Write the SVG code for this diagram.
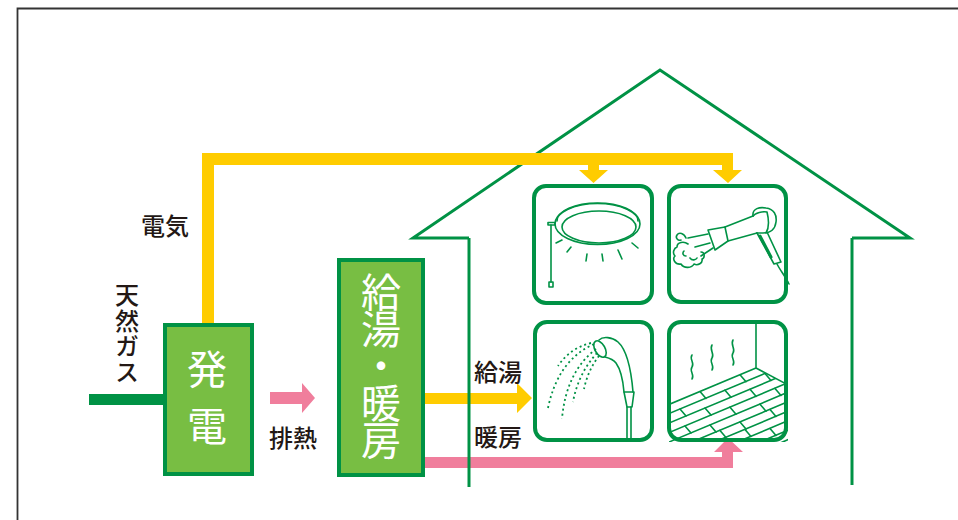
<svg xmlns="http://www.w3.org/2000/svg" width="958" height="520" viewBox="0 0 958 520">
  <style>
    .house { fill: none; stroke: #009245; stroke-width: 3; stroke-linejoin: miter; }
    .box { fill: #78be43; stroke: #009245; stroke-width: 4; }
    .room { fill: #ffffff; stroke: #009245; stroke-width: 4; }
    .ic { fill: none; stroke: #009245; stroke-width: 1.6; stroke-linecap: round; stroke-linejoin: round; }
    .spray { fill: none; stroke: #009245; stroke-width: 1.8; stroke-dasharray: 2 3; }
    .lbl { font-family: "Noto Sans CJK JP", "Noto Sans", sans-serif; font-size: 24px; font-weight: 500; fill: #231815; }
    .big { font-family: "Noto Sans CJK JP", "Noto Sans", sans-serif; font-size: 40px; fill: #ffffff; }
    .vert { writing-mode: vertical-rl; }
    .elec { fill: #ffcc00; }
    .heat { fill: #f07e9c; }
  </style>
  <defs>
    <clipPath id="floorClip">
      <polygon points="669,404 756,368 788,385 788,442 669,442"/>
    </clipPath>
    <clipPath id="room4Clip">
      <rect x="669" y="322" width="117" height="118" rx="11"/>
    </clipPath>
  </defs>

  <rect width="958" height="520" fill="#ffffff"/>
  <!-- outer frame -->
  <path d="M17.5,520 V8.5 H958" fill="none" stroke="#333333" stroke-width="1.8"/>

  <!-- house roof outline -->
  <g id="house-roof">
    <path class="house" d="M469,238 H413 L660,70 L910,238 H852"/>
  </g>

  <g id="connectors">
    <!-- natural gas feed -->
    <rect x="89" y="394" width="76" height="11" fill="#009245"/>
    <!-- electricity line -->
    <path class="elec" d="M202,323 V153 H733 V170 H742 L728,183 L713,170 H722 V165 H599 V170 H608 L593.5,183 L579,170 H588 V165 H214 V323 Z"/>
    <!-- exhaust heat -->
    <polygon class="heat" points="270,392 302,392 302,383 315,398 302,413 302,404 270,404"/>
    <!-- hot water supply -->
    <polygon class="elec" points="425,393 517,393 517,383 532,398 517,413 517,404 425,404"/>
    <!-- space heating -->
    <path class="heat" d="M425,457 H722 V452 H714 L728,438 L743,452 H733 V468 H425 Z"/>
  </g>

  <!-- house walls -->
  <g id="house-walls">
    <path class="house" d="M469,238 V487"/>
    <path class="house" d="M852,238 V485"/>
  </g>

  <!-- labels -->
  <g id="label-gas">
    <text class="lbl vert" x="127" y="283" letter-spacing="1.5">天然ガス</text>
  </g>
  <g id="label-elec"><text class="lbl" x="141" y="235">電気</text></g>
  <g id="label-exhaust"><text class="lbl" x="269" y="447">排熱</text></g>
  <g id="label-water"><text class="lbl" x="474" y="381">給湯</text></g>
  <g id="label-heating"><text class="lbl" x="474" y="446">暖房</text></g>

  <!-- power generation unit -->
  <g id="node-power">
    <rect class="box" x="165" y="325" width="87" height="149"/>
    <text class="big vert" x="207" y="349" letter-spacing="17">発電</text>
  </g>

  <!-- hot water / heating unit -->
  <g id="node-boiler">
    <rect class="box" x="339" y="260" width="84" height="215"/>
    <text class="big vert" x="381" y="272" letter-spacing="-3">給湯・暖房</text>
  </g>

  <!-- ceiling light -->
  <g id="room-light">
    <rect class="room" x="534" y="186" width="118" height="117" rx="12"/>
    <g class="ic">
      <ellipse cx="597.5" cy="224" rx="42.5" ry="20.5"/>
      <path d="M557,221 A40.5,18 0 0 1 638,221"/>
      <ellipse cx="599" cy="227" rx="37" ry="16"/>
      <rect x="548" y="222.5" width="7" height="2.5"/>
      <line x1="551" y1="225" x2="551" y2="282"/>
      <rect x="549" y="282" width="4" height="5"/>
      <line x1="556" y1="243" x2="562" y2="240"/>
      <line x1="567" y1="252" x2="571" y2="247"/>
      <line x1="586" y1="261" x2="587" y2="254"/>
      <line x1="603" y1="261" x2="602" y2="254"/>
      <line x1="622" y1="259" x2="618" y2="250"/>
      <line x1="638" y1="248" x2="632" y2="243"/>
    </g>
  </g>

  <!-- hair dryer -->
  <g id="room-dryer">
    <rect class="room" x="669" y="186" width="117" height="116" rx="12"/>
    <g class="ic">
      <!-- nozzle -->
      <path d="M708,230 L725,227 L728,241 L715,250 Z"/>
      <!-- barrel -->
      <path d="M725,227 L753,216 M728,241 L757,233"/>
      <!-- head -->
      <path d="M753,216 C752,208 760,207 766,208 C774,209 777,215 776,222 C775,230 770,233 763,233 C759,233 756,233 757,233"/>
      <path d="M753,216 C755,213 763,211 767,212 C769,220 769,228 766,233"/>
      <!-- handle -->
      <path d="M757,233 L774,264 L781,262 L767,232"/>
      <path d="M760,236 L771,257" stroke-width="3"/>
      <path d="M777,264 C780,270 785,276 789,284"/>
      <!-- air stream -->
      <path d="M708,234 L688,238 M710,243 L695,247 M713,248 L701,256"/>
      <!-- steam cloud -->
      <path d="M686,238 C684,233 679,232 677,235 C675,238 678,241 681,240"/>
      <path d="M688,244 C684,241 677,242 677,247 C674,248 672,253 675,256 C672,259 675,265 681,264 C684,269 692,268 694,264 C698,266 703,263 702,259 C705,258 705,252 701,252"/>
      <path d="M684,251 C682,253 683,256 686,256 M690,258 C692,261 696,260 697,258"/>
    </g>
  </g>

  <!-- shower -->
  <g id="room-shower">
    <rect class="room" x="535" y="322" width="117" height="118" rx="12"/>
    <g class="ic">
      <ellipse cx="600" cy="349" rx="5" ry="9" transform="rotate(-30 600 349)"/>
      <path d="M599,340 C603,336 612,337 618,342 C627,350 631,368 633,392"/>
      <path d="M605,357 C609,358 613,359 616,363 C621,370 623,380 624,392"/>
      <path d="M624,392 H634 L632,407 H627 Z"/>
      <path d="M627,407 V441 M631,407 V441"/>
    </g>
    <g class="spray">
      <path d="M594,344 Q558,360 548,408"/>
      <path d="M596,349 Q566,372 562,419"/>
      <path d="M597,353 Q578,374 573,402"/>
      <path d="M599,356 Q588,370 584,389"/>
      <path d="M591,343 Q570,348 558,366"/>
    </g>
  </g>

  <!-- floor heating -->
  <g id="room-floor">
    <rect class="room" x="669" y="322" width="117" height="118" rx="12"/>
    <g class="ic" clip-path="url(#room4Clip)">
      <path d="M756,322 V368 L669,404.4 M756,368 L788,385"/>
      <!-- steam -->
      <path d="M692,355 C689,359 695,363 692,367 C689,371 695,375 692,379"/>
      <path d="M712,345 C709,350 715,354 712,358 C709,362 715,366 712,370"/>
      <path d="M733,340 C730,345 736,349 733,353 C730,357 736,361 733,365"/>
    </g>
    <g class="ic" clip-path="url(#floorClip)">
      <path d="M669,413.5 L790,362.9"/>
      <path d="M669,423 L790,372.4"/>
      <path d="M669,432.5 L790,381.9"/>
      <path d="M669,442 L790,391.4"/>
      <path d="M669,451.5 L790,400.9"/>
      <path d="M669,461 L790,410.4"/>
      <path d="M669,470.5 L790,419.9"/>
      <path d="M669,480 L790,429.4"/>
      <path d="M669,489.5 L790,438.9"/>
      <!-- plank joints -->
      <path d="M740,374.7 L746,381.7 M700,391.4 L706,398.4"/>
      <path d="M680,409 L686,416 M725,390.2 L731,397.2 M765,373.5 L771,380.5"/>
      <path d="M705,408.1 L711,415.1 M750,389.3 L756,396.3"/>
      <path d="M685,426 L691,433 M730,407.2 L736,414.2 M775,388.4 L781,395.4"/>
      <path d="M710,425.1 L716,432.1 M760,404.2 L766,411.2"/>
      <path d="M690,443 L696,450 M740,422.1 L746,429.1"/>
      <path d="M720,430.4 L726,437.4 M770,409.5 L776,416.5"/>
      <path d="M745,429.5 L751,436.5"/>
      <path d="M770,428.5 L776,435.5"/>
    </g>
  </g>
</svg>
